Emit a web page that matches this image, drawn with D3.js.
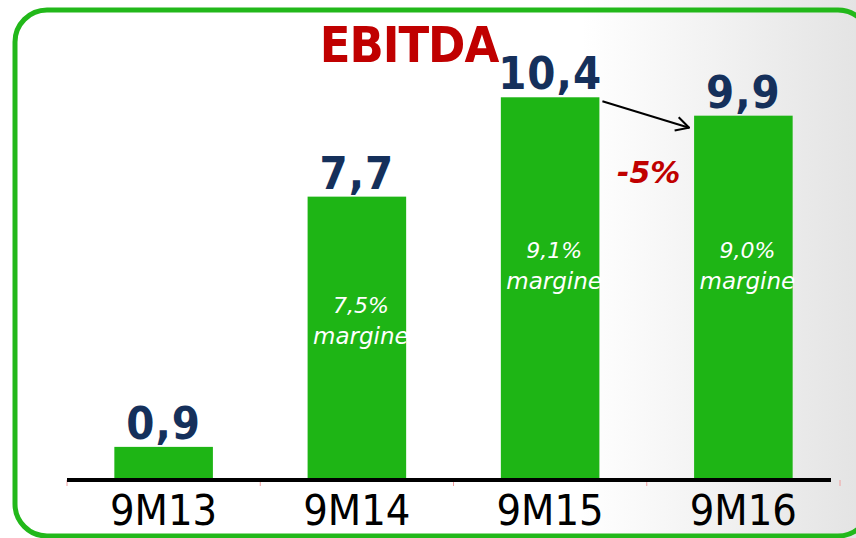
<!DOCTYPE html>
<html>
<head>
<meta charset="utf-8">
<script src="https://cdn.jsdelivr.net/npm/d3@7"></script>
<style>
  html, body { margin: 0; padding: 0; background: #fff; }
  svg { display: block; }
</style>
</head>
<body>
<div id="chart"></div>
<script>
// Chart data
const periods = ["9M13", "9M14", "9M15", "9M16"];
const ebitda = [0.9, 7.7, 10.4, 9.9];
const valueLabels = ["0,9", "7,7", "10,4", "9,9"];
const marginLabels = [null, "7,5%", "9,1%", "9,0%"];
const changeLabel = "-5%";

const width = 856, height = 538;
const baseline = 480;

const svg = d3.select("#chart").append("svg")
    .attr("width", width)
    .attr("height", height);

// Background gradient on the right side
const defs = svg.append("defs");
const grad = defs.append("linearGradient")
    .attr("id", "bg")
    .attr("x1", "0").attr("x2", "1").attr("y1", "0").attr("y2", "0");
grad.append("stop").attr("offset", "0.68").attr("stop-color", "#ffffff");
grad.append("stop").attr("offset", "1").attr("stop-color", "#e4e4e4");

svg.append("rect")
    .attr("x", 0).attr("y", 0)
    .attr("width", width).attr("height", height)
    .attr("fill", "url(#bg)");

// Green rounded frame (runs off the right edge)
svg.append("rect")
    .attr("x", 15).attr("y", 10)
    .attr("width", 855).attr("height", 526)
    .attr("rx", 32).attr("ry", 32)
    .attr("fill", "none")
    .attr("stroke", "#22b81a")
    .attr("stroke-width", 5);

// Scales
const xScale = d3.scaleBand()
    .domain(periods)
    .range([67, 840])
    .paddingInner(0.49)
    .paddingOuter(0.245);

const yScale = d3.scaleLinear()
    .domain([0, 11])
    .range([baseline, baseline - 11 * 36.8]);

const data = periods.map((p, i) => ({
    key: p, value: ebitda[i], label: valueLabels[i], margin: marginLabels[i]
}));

// Bars
svg.selectAll("rect.bar")
    .data(data)
    .join("rect")
        .attr("class", "bar")
        .attr("x", (d) => xScale(d.key))
        .attr("y", (d) => yScale(d.value))
        .attr("width", xScale.bandwidth())
        .attr("height", (d) => yScale(0) - yScale(d.value))
        .attr("fill", "#1eb515");

// Value labels above bars
svg.selectAll("text.value")
    .data(data)
    .join("text")
        .attr("class", "value")
        .attr("x", (d) => xScale(d.key) + xScale.bandwidth() / 2)
        .attr("y", (d) => yScale(d.value) - 8)
        .attr("text-anchor", "middle")
        .style("font-family", "'DejaVu Sans Condensed', 'DejaVu Sans', sans-serif")
        .style("font-weight", "bold")
        .style("font-size", "45px")
        .style("letter-spacing", "1px")
        .attr("fill", "#15305b")
        .text((d) => d.label);

// Margin labels inside bars (9M15 and 9M16 share the same height)
const marginData = data.filter((d) => d.margin);
const marginGroups = svg.selectAll("g.margin")
    .data(marginData)
    .join("g")
        .attr("class", "margin")
        .attr("transform", (d) => {
            const ty = d.key === "9M14" ? yScale(d.value) + 116 : yScale(ebitda[2]) + 161;
            return `translate(${xScale(d.key) + xScale.bandwidth() / 2 + 4},${ty})`;
        });

marginGroups.append("text")
    .attr("text-anchor", "middle")
    .style("font-family", "'DejaVu Sans', sans-serif")
    .style("font-style", "italic")
    .style("font-size", "22px")
    .attr("fill", "#ffffff")
    .text((d) => d.margin);

marginGroups.append("text")
    .attr("y", 31)
    .attr("text-anchor", "middle")
    .style("font-family", "'DejaVu Sans', sans-serif")
    .style("font-style", "italic")
    .style("font-size", "23px")
    .attr("fill", "#ffffff")
    .text("margine");

// Baseline axis
const axis = svg.append("g")
    .attr("transform", `translate(0,${baseline})`)
    .call(d3.axisBottom(xScale).tickSize(0).tickPadding(14));

axis.select(".domain").remove();

axis.selectAll("text")
    .style("font-family", "'DejaVu Sans Condensed', 'DejaVu Sans', sans-serif")
    .style("font-size", "43px")
    .attr("fill", "#000");

// Faint red boundary ticks
const step = xScale.step();
const bounds = d3.range(periods.length + 1).map((i) => 67 + i * step);
svg.selectAll("line.bound")
    .data(bounds)
    .join("line")
        .attr("class", "bound")
        .attr("x1", (d) => d).attr("x2", (d) => d)
        .attr("y1", baseline).attr("y2", baseline + 6)
        .attr("stroke", "#f0a0a0")
        .attr("stroke-width", 1);

svg.append("line")
    .attr("x1", 67).attr("x2", 831)
    .attr("y1", baseline).attr("y2", baseline)
    .attr("stroke", "#000")
    .attr("stroke-width", 4);

// Title
svg.append("text")
    .attr("x", 409)
    .attr("y", 62)
    .attr("text-anchor", "middle")
    .style("font-family", "'DejaVu Sans Condensed', 'DejaVu Sans', sans-serif")
    .style("font-weight", "bold")
    .style("font-size", "50px")
    .style("letter-spacing", "-1px")
    .attr("fill", "#c00000")
    .text("EBITDA");

// Arrow from 9M15 to 9M16
defs.append("marker")
    .attr("id", "arrow")
    .attr("viewBox", "0 0 16 16")
    .attr("refX", 15).attr("refY", 8)
    .attr("markerWidth", 16).attr("markerHeight", 16)
    .attr("markerUnits", "userSpaceOnUse")
    .attr("orient", "auto")
    .append("path")
        .attr("d", "M2,1 L15,8 L2,15")
        .attr("fill", "none")
        .attr("stroke", "#000")
        .attr("stroke-width", 2);

const x15 = xScale("9M15") + xScale.bandwidth();
const x16 = xScale("9M16");
svg.append("line")
    .attr("x1", x15 + 3).attr("y1", yScale(ebitda[2]) + 4)
    .attr("x2", x16 - 5).attr("y2", yScale(ebitda[3]) + 12)
    .attr("stroke", "#000")
    .attr("stroke-width", 2)
    .attr("marker-end", "url(#arrow)");

svg.append("text")
    .attr("x", (x15 + x16) / 2 + 2)
    .attr("y", 183)
    .attr("text-anchor", "middle")
    .style("font-family", "'DejaVu Sans', sans-serif")
    .style("font-weight", "bold")
    .style("font-style", "italic")
    .style("font-size", "30px")
    .attr("fill", "#c00000")
    .text(changeLabel);
</script>
</body>
</html>
